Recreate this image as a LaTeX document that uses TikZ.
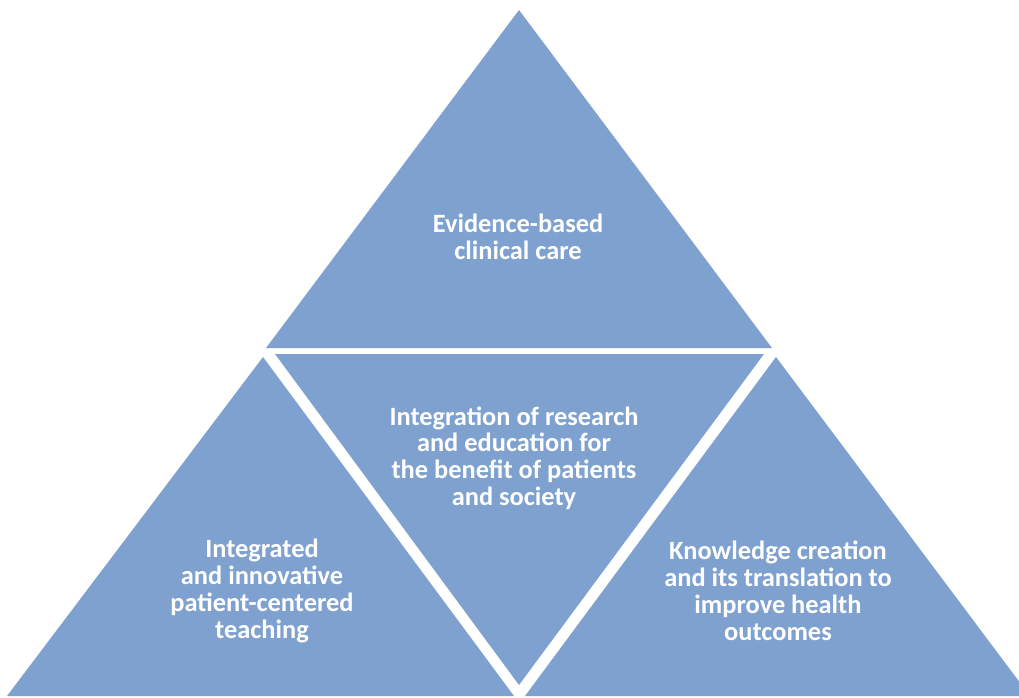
\documentclass[tikz,border=0pt]{standalone}
\usepackage{fontspec}
\setmainfont{Carlito}
\definecolor{tri}{RGB}{127,161,208}
\begin{document}
\begin{tikzpicture}[x=1pt,y=-1pt,
  label text/.style={text=white,font=\fontsize{26.4}{26.8}\selectfont\bfseries,align=center,inner sep=0pt}]
\useasboundingbox (0,0) rectangle (1019,698);
\begin{scope}
\clip (0,0) rectangle (1019,698);
\fill[tri] (519,10) -- (772,348) -- (266,348) -- cycle;
\fill[tri] (275,354) -- (764,354) -- (519,685) -- cycle;
\fill[tri] (263,357) -- (514,696) -- (7,696) -- cycle;
\fill[tri] (776,357) -- (1030,696) -- (525,696) -- cycle;
\end{scope}
\node[label text] (top) at (518,237) {Evidence-based\\clinical care};
\node[label text] (mid) at (514,458) {Integration of research\\and education for\\the benefit of patients\\and society};
\node[label text] (left) at (262,591) {Integrated\\and innovative\\patient-centered\\teaching};
\node[label text] (right) at (778,591) {Knowledge creation\\and its translation to\\improve health\\outcomes};
\end{tikzpicture}
\end{document}
